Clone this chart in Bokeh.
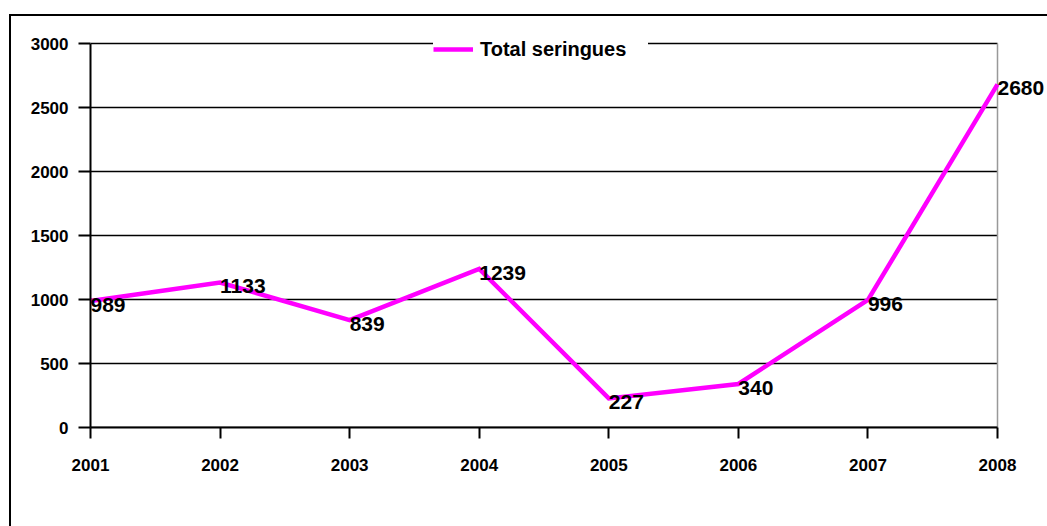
from bokeh.plotting import figure
from bokeh.models import (ColumnDataSource, FixedTicker, LabelSet, Legend, LegendItem, Range1d)
from bokeh.core.properties import value
from bokeh.embed import file_html
from bokeh.resources import INLINE

years = [2001, 2002, 2003, 2004, 2005, 2006, 2007, 2008]
totals = [989, 1133, 839, 1239, 227, 340, 996, 2680]
y_ticks = [0, 500, 1000, 1500, 2000, 2500, 3000]
series_name = "Total seringues"

FONT = "Liberation Sans"
MAGENTA = "#FF00FF"

# layout constants (page: outer frame at x=10,y=15; plot area x 90..997, y 43..427)
FIG_W, FIG_H = 1036, 510
LEFT, TOP, BOTTOM = 79, 12, 99
PLOT_W, PLOT_H = 907, 384             # pixels spanned by the data axes
X_PAD = (FIG_W - LEFT - PLOT_W) / PLOT_W * (years[-1] - years[0])      # room for last label
Y_PAD = (FIG_H - TOP - BOTTOM - PLOT_H) / PLOT_H * (y_ticks[-1] - y_ticks[0])  # room for legend

src = ColumnDataSource(dict(x=years, y=totals, lbl=[str(v) for v in totals]))

p = figure(width=FIG_W, height=FIG_H, output_backend="svg", toolbar_location=None,
           x_range=Range1d(years[0], years[-1] + X_PAD),
           y_range=Range1d(y_ticks[0], y_ticks[-1] + Y_PAD),
           min_border_left=LEFT, min_border_right=0, min_border_top=TOP, min_border_bottom=BOTTOM,
           margin=(16, 0, 0, 11),
           styles={"outline": "2px solid black"})
p.outline_line_color = None
p.background_fill_color = "white"
p.border_fill_color = "white"

# horizontal grid lines, limited to the plot area
p.segment(x0=[years[0]] * len(y_ticks), x1=[years[-1]] * len(y_ticks), y0=y_ticks, y1=y_ticks,
          line_color="black", line_width=1.5)
# right border of the plot area
p.segment(x0=[years[-1]], x1=[years[-1]], y0=[y_ticks[0]], y1=[y_ticks[-1]],
          line_color="#999999", line_width=1.5)

line = p.line("x", "y", source=src, line_color=MAGENTA, line_width=4.5, line_join="miter")

# axes
p.xaxis.ticker = FixedTicker(ticks=years)
p.yaxis.ticker = FixedTicker(ticks=y_ticks)
p.xaxis.bounds = (years[0], years[-1])
p.yaxis.bounds = (y_ticks[0], y_ticks[-1])
for ax in (p.xaxis, p.yaxis):
    ax.axis_line_color = "black"
    ax.axis_line_width = 2
    ax.major_tick_line_color = "black"
    ax.major_tick_line_width = 2
    ax.major_tick_in = 0
    ax.minor_tick_line_color = None
    ax.major_label_text_font = FONT
    ax.major_label_text_font_style = "bold"
    ax.major_label_text_font_size = "17px"
    ax.major_label_text_color = "black"
p.xaxis.major_tick_out = 11
p.xaxis.major_label_standoff = 20
p.yaxis.major_tick_out = 12
p.yaxis.major_label_standoff = 10

p.xgrid.grid_line_color = None
p.ygrid.grid_line_color = None

# data labels
labels = LabelSet(x="x", y="y", text="lbl", source=src, text_font=value(FONT),
                  text_font_style="bold", text_font_size="21px", text_color="black",
                  text_align="left", text_baseline="middle", x_offset=0, y_offset=-4)
p.add_layout(labels)

# legend
legend = Legend(items=[LegendItem(label=series_name, renderers=[line])],
                location=(343, 366), orientation="horizontal",
                label_text_font=FONT, label_text_font_style="bold", label_text_font_size="20px",
                label_text_color="black",
                glyph_width=40, glyph_height=14, label_height=24, label_width=168,
                label_standoff=7, padding=20, margin=0, spacing=0,
                background_fill_color="white", background_fill_alpha=1,
                border_line_color=None)
p.add_layout(legend, "center")

open("out.html", "w").write(file_html(p, INLINE))
